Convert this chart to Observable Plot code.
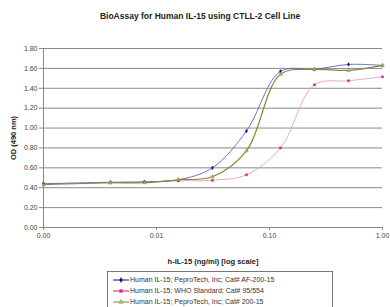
<!DOCTYPE html>
<html>
<head>
<meta charset="utf-8">
<script src="https://cdn.jsdelivr.net/npm/d3@7"></script>
<script src="https://cdn.jsdelivr.net/npm/@observablehq/plot@0.6"></script>
<style>
  html, body { margin: 0; padding: 0; background: #fff; }
  #wrap { position: relative; width: 390px; height: 307px; overflow: hidden; font-family: "Liberation Sans", Arial, sans-serif; }
  #title { position: absolute; left: 0; width: 400px; top: 11px; text-align: center; font-size: 8.5px; font-weight: bold; color: #222; }
</style>
</head>
<body>
<div id="wrap"><div id="title">BioAssay for Human IL-15 using CTLL-2 Cell Line</div></div>
<script>
const concentrations = [0.001, 1/256, 1/128, 1/64, 1/32, 1/16, 1/8, 1/4, 1/2, 1];
const seriesNames = [
  "Human IL-15; PeproTech, Inc; Cat# AF-200-15",
  "Human IL-15; WHO Standard; Cat# 95/554",
  "Human IL-15; PeproTech, Inc; Cat# 200-15"
];
const afValues  = [0.44, 0.455, 0.46, 0.48, 0.60, 0.97, 1.57, 1.59, 1.64, 1.63];
const whoValues = [0.44, 0.45, 0.455, 0.47, 0.475, 0.53, 0.80, 1.435, 1.475, 1.515];
const cvValues  = [0.43, 0.45, 0.45, 0.48, 0.51, 0.77, 1.54, 1.59, 1.58, 1.63];
const xTicks = [0.001, 0.01, 0.1, 1];
const xTickLabels = ["0.00", "0.01", "0.10", "1.00"];
const yTicks = [0, 0.2, 0.4, 0.6, 0.8, 1.0, 1.2, 1.4, 1.6, 1.8];

const styles = [
  {line: "#5566cc", mark: "#10107a", fill: "#10107a", symbol: "diamond", r: 1.15, sw: 0.9, lsz: 7},
  {line: "#e8a0b8", mark: "#d8206e", fill: "#e0287a", symbol: "square", r: 1.2, sw: 0.9, lsz: 8},
  {line: "#8a8436", mark: "#8a8436", fill: "#b0b868", symbol: "triangle", r: 1.4, sw: 1.2, lsz: 9}
];
const allValues = [afValues, whoValues, cvValues];
const rows = [];
allValues.forEach((vals, s) => vals.forEach((v, i) => rows.push({series: seriesNames[s], s, x: concentrations[i], y: v})));

const order = [1, 0, 2];
const marks = [
  Plot.ruleY(yTicks.slice(1), {stroke: "#8a8a8a", strokeWidth: 1}),
  Plot.ruleX([0.001], {y1: 0, y2: 1.8, stroke: "#8a8a8a", strokeWidth: 1}),
  Plot.ruleY([0], {stroke: "#8a8a8a", strokeWidth: 1}),
  Plot.axisY({ticks: yTicks, tickFormat: d3.format(".2f"), tickSize: 4, stroke: "#8a8a8a", fontSize: 7, color: "#444", tickPadding: 2,
    label: "OD (490 nm)", labelAnchor: "center", labelOffset: 33, labelArrow: "none"}),
  Plot.axisX({ticks: xTicks, tickFormat: (d) => xTickLabels[xTicks.indexOf(d)], tickSize: 3, stroke: "#8a8a8a", fontSize: 7, color: "#444", tickPadding: 3,
    label: "h-IL-15 (ng/ml) [log scale]", labelAnchor: "center", labelOffset: 36, labelArrow: "none"})
];
for (const s of order) {
  const data = rows.filter(d => d.s === s);
  marks.push(Plot.line(data, {x: "x", y: "y", curve: "catmull-rom", stroke: styles[s].line, strokeWidth: styles[s].sw}));
}
for (const s of order) {
  const data = rows.filter(d => d.s === s);
  marks.push(Plot.dot(data, {x: "x", y: "y", symbol: () => styles[s].symbol, r: styles[s].r, fill: styles[s].fill, stroke: styles[s].mark, strokeWidth: 0.4}));
}

const chart = Plot.plot({
  width: 390, height: 307,
  marginTop: 48, marginBottom: 80, marginLeft: 43, marginRight: 8,
  style: {fontFamily: "Liberation Sans, Arial, sans-serif", background: "#fff"},
  x: {type: "log", domain: [0.001, 1]},
  y: {domain: [0, 1.8]},
  symbol: {type: "identity"},
  marks
});
d3.select(chart).selectAll("[aria-label='x-axis label'] text, [aria-label='y-axis label'] text")
  .style("font-weight", "bold").style("font-size", "7.5px").attr("fill", "#222");
const wrap = document.getElementById("wrap");
wrap.insertBefore(chart, wrap.firstChild);

// Legend
const leg = d3.select(wrap).append("svg").attr("width", 390).attr("height", 307)
  .style("position", "absolute").style("left", 0).style("top", 0);
leg.append("rect").attr("x", 107.5).attr("y", 271.5).attr("width", 225).attr("height", 45)
  .attr("fill", "#fff").attr("stroke", "#777").attr("stroke-width", 1);
const symGen = {diamond: d3.symbolDiamond, square: d3.symbolSquare, triangle: d3.symbolTriangle};
seriesNames.forEach((name, i) => {
  const y = 280 + i * 11;
  const st = styles[i];
  leg.append("line").attr("x1", 113).attr("x2", 129).attr("y1", y).attr("y2", y).attr("stroke", st.mark).attr("stroke-width", 1);
  leg.append("path").attr("d", d3.symbol(symGen[st.symbol], st.lsz)()).attr("transform", `translate(121,${y})`)
    .attr("fill", st.fill).attr("stroke", st.mark).attr("stroke-width", 0.4);
  leg.append("text").attr("x", 130).attr("y", y).attr("dy", "0.35em").attr("font-size", 7)
    .attr("font-family", "Liberation Sans, Arial, sans-serif").attr("fill", "#333").text(name);
});
</script>
</body>
</html>
